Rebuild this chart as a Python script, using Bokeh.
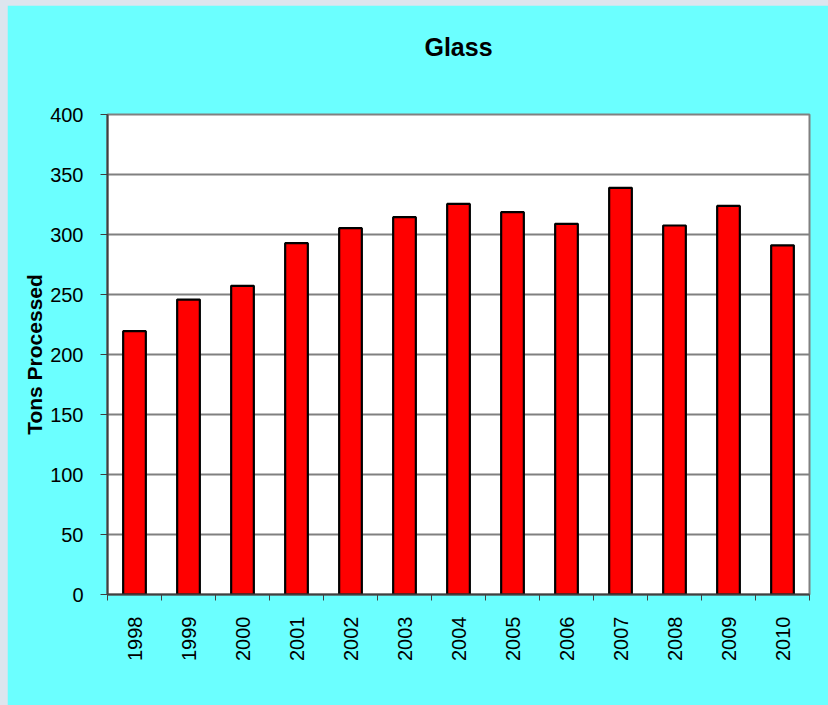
import math
from bokeh.plotting import figure
from bokeh.models import FixedTicker, ColumnDataSource, Title
from bokeh.embed import file_html
from bokeh.resources import INLINE

years = ["1998", "1999", "2000", "2001", "2002", "2003", "2004",
         "2005", "2006", "2007", "2008", "2009", "2010"]
tons = [219.4, 245.8, 257.2, 292.8, 305.3, 314.4, 325.5,
        318.6, 308.9, 338.9, 307.5, 323.8, 291.0]
y_ticks = [0, 50, 100, 150, 200, 250, 300, 350, 400]

pos = [i + 0.5 for i in range(len(years))]
src = ColumnDataSource(dict(x=pos, top=tons, year=years))

CYAN = "#6BFFFF"
p = figure(width=821, height=700, x_range=(0, len(years)), y_range=(0, 400),
           output_backend="svg", toolbar_location=None,
           background_fill_color="white", border_fill_color=CYAN,
           outline_line_color="#808080", outline_line_width=2,
           min_border_left=100, min_border_right=19,
           min_border_top=109, min_border_bottom=111)

p.title.text = "Glass"
p.title.align = "center"
p.title.text_font = "Liberation Sans"
p.title.text_font_size = "25px"
p.title.text_font_style = "bold"
p.title.text_color = "black"
p.title.standoff = 10

# empty spacer between the title and the plot area
p.add_layout(Title(text=" ", text_font_size="42px", standoff=0), "above")

p.vbar(x="x", top="top", width=0.42, source=src,
       fill_color="#FF0000", line_color="black", line_width=2.2)

# y axis
p.yaxis.ticker = FixedTicker(ticks=y_ticks)
p.yaxis.axis_label = "Tons Processed"
p.yaxis.axis_label_text_font = "Liberation Sans"
p.yaxis.axis_label_text_font_size = "21px"
p.yaxis.axis_label_text_font_style = "bold"
p.yaxis.axis_label_text_color = "black"
p.yaxis.axis_label_standoff = 1
p.yaxis.major_label_text_font = "Liberation Sans"
p.yaxis.major_label_text_font_size = "20px"
p.yaxis.major_label_text_color = "black"
p.yaxis.major_label_standoff = 17
p.yaxis.major_tick_out = 7
p.yaxis.major_tick_in = 0
p.yaxis.minor_tick_line_color = None
p.yaxis.axis_line_color = "#404040"
p.yaxis.axis_line_width = 2
p.yaxis.major_tick_line_color = "#404040"

# x axis
p.xaxis.ticker = FixedTicker(ticks=pos, minor_ticks=list(range(len(years) + 1)))
p.xaxis.major_label_overrides = {x: y for x, y in zip(pos, years)}
p.xaxis.major_label_orientation = math.pi / 2
p.xaxis.major_label_text_font = "Liberation Sans"
p.xaxis.major_label_text_font_size = "20px"
p.xaxis.major_label_text_color = "black"
p.xaxis.major_label_standoff = 16
p.xaxis.major_tick_line_color = None
p.xaxis.major_tick_out = 6
p.xaxis.minor_tick_out = 6
p.xaxis.minor_tick_in = 0
p.xaxis.minor_tick_line_color = "#404040"
p.xaxis.axis_line_color = "#404040"
p.xaxis.axis_line_width = 2

p.xgrid.grid_line_color = None
p.ygrid.grid_line_color = "#808080"
p.ygrid.grid_line_width = 2

html = file_html(p, INLINE)
style = ("<style>html, body{background:#dde5ee !important;} "
         "body{margin:0 !important; padding:5px 0 0 7px !important;}</style>")
html = html.replace("</head>", style + "</head>", 1)
open("out.html", "w").write(html)
